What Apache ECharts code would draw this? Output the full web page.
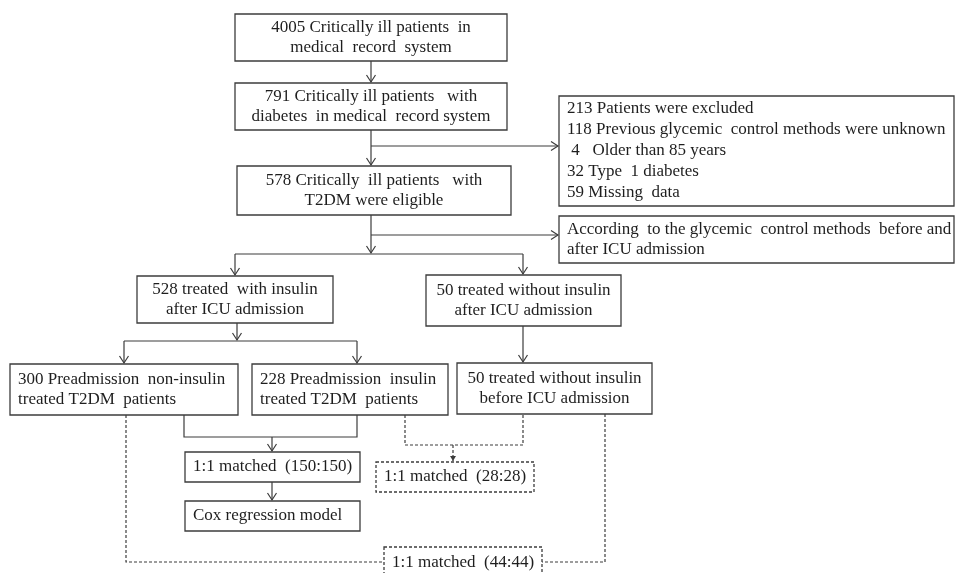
<!DOCTYPE html>
<html>
<head>
<meta charset="utf-8">
<title>Flow chart</title>
<script src="https://cdn.jsdelivr.net/npm/echarts@6/dist/echarts.min.js"></script>
<style>
  html, body { margin: 0; padding: 0; background: #fff; }
  #chart { width: 955px; height: 573px; }
</style>
</head>
<body>
<div id="chart"></div>
<script>
// box texts
var boxTexts = [
  '4005 Critically ill patients  in\nmedical  record  system',
  '791 Critically ill patients   with\ndiabetes  in medical  record system',
  '578 Critically  ill patients   with\nT2DM were eligible',
  '213 Patients were excluded\n118 Previous glycemic  control methods were unknown\n 4   Older than 85 years\n32 Type  1 diabetes\n59 Missing  data',
  'According  to the glycemic  control methods  before and\nafter ICU admission',
  '528 treated  with insulin\nafter ICU admission',
  '50 treated without insulin\nafter ICU admission',
  '300 Preadmission  non-insulin\ntreated T2DM  patients',
  '228 Preadmission  insulin\ntreated T2DM  patients',
  '50 treated without insulin\nbefore ICU admission',
  '1:1 matched  (150:150)',
  'Cox regression model',
  '1:1 matched  (28:28)',
  '1:1 matched  (44:44)'
];

// layout (x0, y0, x1, y1 in picture units), text alignment, dashed border
var boxFrames = [
  [235, 14, 507, 61], [235, 83, 507, 130], [237, 166, 511, 215],
  [559, 96, 954, 206], [559, 216, 954, 263],
  [137, 276, 333, 323], [426, 275, 621, 326],
  [10, 364, 238, 415], [252, 364, 448, 415], [457, 363, 652, 414],
  [185, 452, 360, 482], [185, 501, 360, 531],
  [376, 462, 534, 492], [384, 547, 542, 578]
];
var boxAlign = ['c', 'c', 'c', 'l', 'l', 'c', 'c', 'l', 'l', 'c', 'l', 'l', 'l', 'l'];
var boxDashed = [0, 0, 0, 0, 0, 0, 0, 0, 0, 0, 0, 0, 1, 1];

// connectors: points, arrow type ('open', 'filled', ''), dashed
var links = [
  [[[371, 61], [371, 82]], 'open', 0],
  [[[371, 130], [371, 165]], 'open', 0],
  [[[371, 146], [558, 146]], 'open', 0],
  [[[371, 215], [371, 253]], 'open', 0],
  [[[371, 235], [558, 235]], 'open', 0],
  [[[235, 254], [523, 254]], '', 0],
  [[[235, 254], [235, 275]], 'open', 0],
  [[[523, 254], [523, 274]], 'open', 0],
  [[[237, 323], [237, 340]], 'open', 0],
  [[[124, 341], [357, 341]], '', 0],
  [[[124, 341], [124, 363]], 'open', 0],
  [[[357, 341], [357, 363]], 'open', 0],
  [[[523, 326], [523, 362]], 'open', 0],
  [[[184, 415], [184, 437], [357, 437], [357, 415]], '', 0],
  [[[272, 437], [272, 451]], 'open', 0],
  [[[272, 482], [272, 500]], 'open', 0],
  [[[405, 415], [405, 445], [523, 445], [523, 414]], '', 1],
  [[[453, 445], [453, 461]], 'filled', 1],
  [[[126, 415], [126, 562], [383, 562]], '', 1],
  [[[605, 414], [605, 562], [542, 562]], '', 1]
];

var lineColor = '#3c3c3c';
var textColor = '#1e1e1e';

function renderBox(params, api) {
  var i = api.value(0);
  var f = boxFrames[i];
  var p0 = api.coord([f[0], f[1]]);
  var p1 = api.coord([f[2], f[3]]);
  var left = boxAlign[i] === 'l';
  var lh = i === 3 ? 21 : 20;
  return {
    type: 'group',
    children: [{
      type: 'rect',
      shape: { x: p0[0], y: p0[1], width: p1[0] - p0[0], height: p1[1] - p0[1] },
      style: {
        fill: '#fff',
        stroke: lineColor,
        lineWidth: 1.3,
        lineDash: boxDashed[i] ? [3, 2] : null
      }
    }, {
      type: 'text',
      style: {
        text: boxTexts[i],
        x: left ? p0[0] + 8 : (p0[0] + p1[0]) / 2,
        y: (p0[1] + p1[1]) / 2,
        align: left ? 'left' : 'center',
        verticalAlign: 'middle',
        lineHeight: lh,
        fill: textColor,
        font: '17px "Liberation Serif", "DejaVu Serif", serif'
      }
    }]
  };
}

function renderLink(params, api) {
  var l = links[api.value(0)];
  var pts = l[0].map(function (p) { return api.coord(p); });
  var style = {
    stroke: lineColor,
    lineWidth: 1.2,
    fill: null,
    lineDash: l[2] ? [3, 2] : null
  };
  var children = [{ type: 'polyline', shape: { points: pts }, style: style }];
  if (l[1]) {
    var a = pts[pts.length - 2], b = pts[pts.length - 1];
    var dx = b[0] - a[0], dy = b[1] - a[1];
    var len = Math.sqrt(dx * dx + dy * dy);
    var ux = dx / len, uy = dy / len;
    var size = l[1] === 'filled' ? 5 : 7, half = l[1] === 'filled' ? 3 : 4.5;
    var w1 = [b[0] - ux * size - uy * half, b[1] - uy * size + ux * half];
    var w2 = [b[0] - ux * size + uy * half, b[1] - uy * size - ux * half];
    if (l[1] === 'filled') {
      children.push({ type: 'polygon', shape: { points: [w1, b, w2] }, style: { fill: lineColor } });
    } else {
      children.push({ type: 'polyline', shape: { points: [w1, b, w2] }, style: { stroke: lineColor, lineWidth: 1.2, fill: null } });
    }
  }
  return { type: 'group', children: children };
}

var chart = echarts.init(document.getElementById('chart'));
chart.setOption({
  backgroundColor: '#fff',
  animation: false,
  grid: { left: 0, right: 0, top: 0, bottom: 0 },
  xAxis: { type: 'value', min: 0, max: 955, show: false },
  yAxis: { type: 'value', min: 0, max: 573, inverse: true, show: false },
  series: [{
    type: 'custom',
    silent: true,
    clip: false,
    renderItem: renderLink,
    data: links.map(function (l, i) { return [i, 0]; })
  }, {
    type: 'custom',
    silent: true,
    clip: false,
    renderItem: renderBox,
    data: boxTexts.map(function (t, i) { return [i, 0]; })
  }]
});
</script>
</body>
</html>
